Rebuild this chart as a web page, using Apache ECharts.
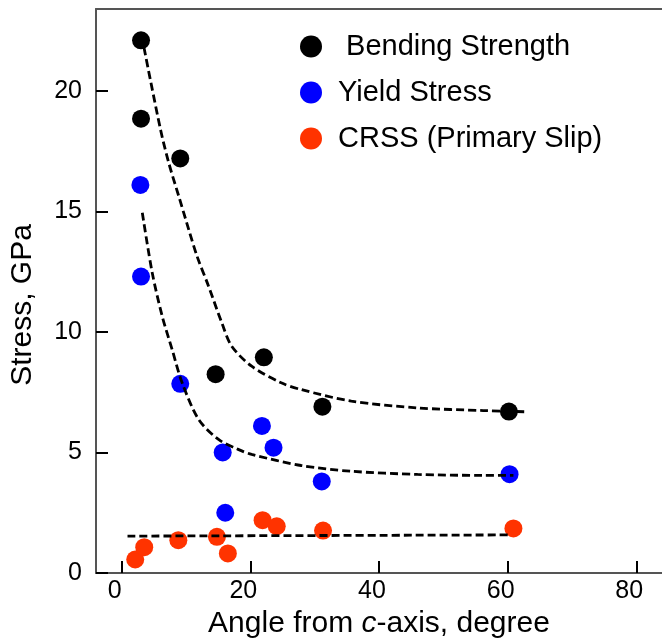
<!DOCTYPE html>
<html>
<head>
<meta charset="utf-8">
<script src="https://cdn.jsdelivr.net/npm/echarts@6/dist/echarts.min.js"></script>
<style>
  html, body { margin: 0; padding: 0; background: #fff; }
  #chart { width: 662px; height: 644px; }
</style>
</head>
<body>
<div id="chart"></div>
<script>
// measured points [angle, stress]
const bendingPts = [[3.0, 22.1], [3.0, 18.85], [9.1, 17.2], [14.6, 8.25], [22.1, 8.95], [31.2, 6.9], [60.2, 6.7]];
const yieldPts = [[2.9, 16.1], [3.0, 12.3], [9.1, 7.85], [15.7, 5.0], [16.1, 2.5], [21.8, 6.1], [23.6, 5.2], [31.1, 3.8], [60.3, 4.1]];
const crssPts = [[2.1, 0.56], [3.5, 1.07], [8.8, 1.36], [14.8, 1.5], [16.5, 0.81], [21.9, 2.19], [24.1, 1.94], [31.3, 1.76], [60.9, 1.85]];

// dashed fit curves
const bendingFit = [[3.46, 21.8], [6.03, 18.4], [7.33, 17.0], [8.87, 15.63], [10.42, 14.25], [11.7, 13.15], [13.5, 11.9],
  [15.56, 10.38], [17.1, 9.41], [20.2, 8.58], [24.8, 7.89], [27.9, 7.61], [35.7, 7.13], [46.0, 6.85], [56.2, 6.74], [62.7, 6.69]];
const yieldFit = [[3.2, 14.95], [4.74, 12.46], [6.29, 10.66], [7.84, 9.27], [9.38, 7.9], [11.96, 6.37], [15.05, 5.54],
  [18.1, 5.13], [20.2, 4.92], [27.9, 4.46], [35.7, 4.22], [46.0, 4.09], [56.2, 4.05], [60.9, 4.05]];
const crssFit = [[0.9, 1.53], [60.1, 1.58]];

const xTicks = [0, 20, 40, 60, 80];
const yTicks = [0, 5, 10, 15, 20];

const FONT = "'Liberation Sans', Arial, sans-serif";
const AXIS_GRAY = "#555";

const chart = echarts.init(document.getElementById("chart"));

function dashed(data) {
  return {
    type: "line",
    data,
    smooth: 0.3,
    showSymbol: false,
    silent: true,
    z: 5,
    lineStyle: { color: "#000", width: 2.8, type: [8, 4] },
  };
}

chart.setOption({
  animation: false,
  textStyle: { fontFamily: FONT },
  grid: { left: 93, right: 0, top: 9, bottom: 70 },
  legend: {
    orient: "vertical",
    left: 295,
    top: 27,
    icon: "circle",
    itemWidth: 22,
    itemHeight: 22,
    itemGap: 17,
    textStyle: { fontSize: 29, color: "#000", lineHeight: 22, padding: [0, 0, 0, 11], fontFamily: FONT },
    data: [" Bending Strength", "Yield Stress", "CRSS (Primary Slip)"],
  },
  xAxis: [
    {
      type: "value",
      min: -4,
      max: 84,
      splitLine: { show: false },
      axisLine: { lineStyle: { color: AXIS_GRAY, width: 2 } },
      axisTick: { inside: true, length: 12, lineStyle: { color: "#000", width: 2 }, customValues: xTicks },
      // labels in the original sit slightly left of their ticks
      axisLabel: { color: "#000", fontSize: 25, margin: 6, padding: [0, 14, 0, 0], customValues: xTicks },
      name: "{a|Angle from }{i|c}{a|-axis, degree}",
      nameLocation: "middle",
      nameGap: 36,
      nameTextStyle: {
        rich: {
          a: { fontSize: 30, color: "#000", fontFamily: FONT },
          i: { fontSize: 30, color: "#000", fontStyle: "italic", fontFamily: FONT },
        },
      },
    },
    {
      type: "value",
      position: "top",
      min: -4,
      max: 84,
      splitLine: { show: false },
      axisLine: { lineStyle: { color: AXIS_GRAY, width: 2 } },
      axisTick: { show: false },
      axisLabel: { show: false },
    },
  ],
  yAxis: {
    type: "value",
    min: 0,
    max: 23.4,
    splitLine: { show: false },
    axisLine: { show: true, onZero: false, lineStyle: { color: AXIS_GRAY, width: 2 } },
    axisTick: { show: true, inside: true, length: 12, lineStyle: { color: "#000", width: 2 }, customValues: yTicks },
    axisLabel: { color: "#000", fontSize: 25, margin: 14, customValues: yTicks },
    name: "Stress, GPa",
    nameLocation: "middle",
    nameGap: 58,
    nameTextStyle: { fontSize: 30, color: "#000", padding: [0, 28, 0, 0] },
  },
  series: [
    { name: " Bending Strength", type: "scatter", data: bendingPts, symbolSize: 18, itemStyle: { color: "#000", opacity: 1 } },
    { name: "Yield Stress", type: "scatter", data: yieldPts, symbolSize: 18, itemStyle: { color: "#0000ff", opacity: 1 } },
    { name: "CRSS (Primary Slip)", type: "scatter", data: crssPts, symbolSize: 18, itemStyle: { color: "#ff3300", opacity: 1 } },
    dashed(bendingFit),
    dashed(yieldFit),
    dashed(crssFit),
  ],
});
</script>
</body>
</html>
